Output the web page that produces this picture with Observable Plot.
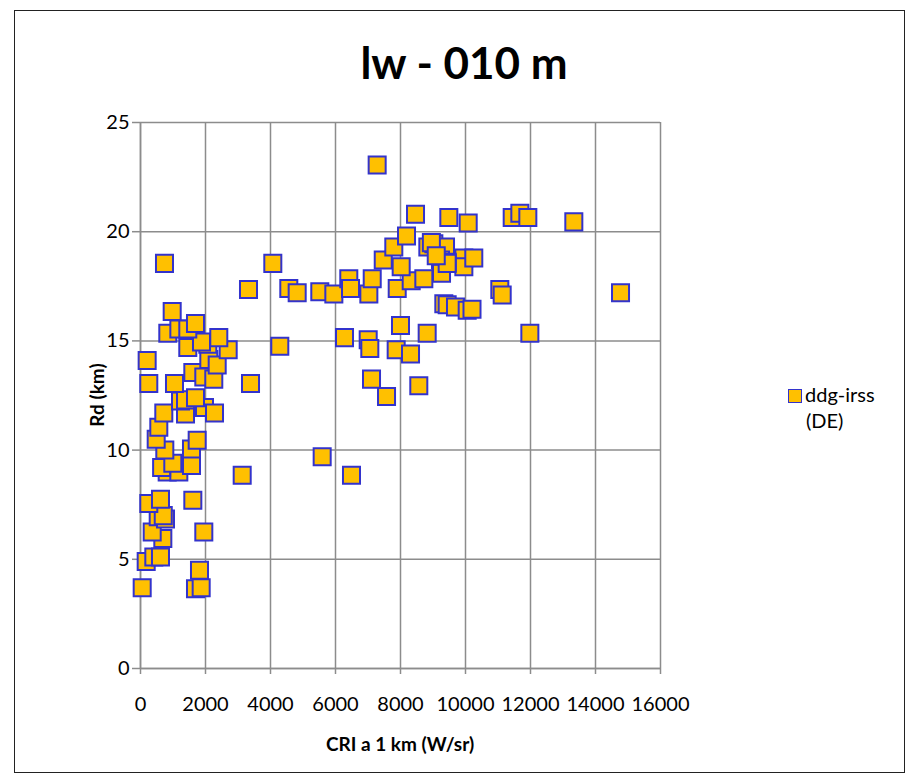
<!DOCTYPE html>
<html>
<head>
<meta charset="utf-8">
<script src="https://cdn.jsdelivr.net/npm/d3@7"></script>
<script src="https://cdn.jsdelivr.net/npm/@observablehq/plot@0.6"></script>
<style>
  html, body { margin: 0; padding: 0; background: #fff; }
  #wrap { position: relative; width: 920px; height: 784px; font-family: Lato, "Open Sans", sans-serif; color: #000; }
  #border { position: absolute; left: 14px; top: 10px; width: 891px; height: 763px; border: 1.5px solid #222; box-sizing: border-box; }
  #title { position: absolute; left: 0; width: 928px; top: 34px; text-align: center; font-weight: bold; font-size: 44px; line-height: 56px; }
  #xlabel { position: absolute; left: 140px; width: 520px; top: 732px; text-align: center; font-weight: bold; font-size: 19px; }
  #ylabel { position: absolute; left: 96px; top: 395px; transform: translate(-50%, -50%) rotate(-90deg); font-weight: bold; font-size: 19px; white-space: nowrap; }
  #legend { position: absolute; left: 788px; top: 381px; font-size: 20px; line-height: 26px; }
  #legend .sw { display: inline-block; width: 12px; height: 12px; background: #FFC000; border: 1.5px solid #3333CC; vertical-align: -1px; margin-right: 3px; }
  #legend .l2 { padding-left: 18px; }
  #chart { position: absolute; left: 0; top: 0; }
</style>
</head>
<body>
<div id="wrap">
  <div id="chart"></div>
  <div id="border"></div>
  <div id="title">lw - 010 m</div>
  <div id="xlabel">CRI a 1 km (W/sr)</div>
  <div id="ylabel">Rd (km)</div>
  <div id="legend"><div><span class="sw"></span>ddg-irss</div><div class="l2">(DE)</div></div>
</div>
<script>
const seriesName = "ddg-irss (DE)";
const xTicks = [0, 2000, 4000, 6000, 8000, 10000, 12000, 14000, 16000];
const yTicks = [0, 5, 10, 15, 20, 25];

// CRI a 1 km (W/sr)
const cri = [
  52, 175, 410, 615, 1692, 1867, 1815, 687, 360, 1948,
  545, 769, 700, 255, 615, 1610, 821, 1179, 650, 994,
  1569, 748, 1569, 483, 1744, 563, 717, 1385, 1969, 2277,
  1231, 1385, 1692, 255, 1046, 1610, 1948, 2255, 3385, 205,
  2102, 2360, 1455, 2071, 1877, 2698, 2409, 840, 1180, 1455,
  1692, 975, 3129, 4286, 738, 4071, 3323, 4563, 4821,
  5517, 5949, 6409, 6462, 7026, 7130, 7899, 8329, 8718, 7469,
  8021, 7794, 8185, 8462, 7282, 8841, 9026, 9385, 9231, 9949,
  9949, 9436, 9262, 9487, 10083, 11437, 11672, 11918, 13333, 11056,
  11129, 14770, 9333, 9436, 9692, 10052, 10200, 11980, 8000, 8821,
  6277, 7006, 7056, 7867, 8308, 7108, 7570, 8563, 5590, 6492,
  10255, 9436, 8950, 9100
];
// Rd (km)
const rd = [
  3.7, 4.9, 5.1, 5.1, 3.65, 3.7, 4.5, 5.95, 6.25, 6.25,
  6.95, 6.85, 7.0, 7.55, 7.75, 7.7, 9.0, 9.0, 9.2, 9.4,
  9.3, 10.0, 10.05, 10.5, 10.45, 11.05, 11.7, 11.65, 11.95, 11.7,
  12.25, 12.3, 12.4, 13.05, 13.05, 13.55, 13.35, 13.25, 13.05, 14.1,
  14.15, 13.9, 14.7, 14.85, 14.95, 14.6, 15.15, 15.35, 15.55, 15.55,
  15.8, 16.35, 8.85, 14.75, 18.55, 18.55, 17.35, 17.4, 17.2,
  17.25, 17.15, 17.85, 17.4, 17.15, 17.85, 17.4, 17.75, 17.85, 18.7,
  18.4, 19.3, 19.8, 20.8, 23.05, 19.3, 19.45, 19.3, 18.7, 18.8,
  18.4, 18.6, 18.1, 20.65, 20.4, 20.65, 20.85, 20.65, 20.45, 17.35,
  17.1, 17.2, 16.7, 16.65, 16.55, 16.4, 16.45, 15.35, 15.7, 15.35,
  15.15, 15.05, 14.65, 14.6, 14.4, 13.25, 12.45, 12.95, 9.7, 8.85,
  18.8, 18.55, 19.5, 18.9
];

const data = cri.map((x, i) => ({x, y: rd[i], s: seriesName}));

const plot = Plot.plot({
  width: 920,
  height: 784,
  marginLeft: 140,
  marginRight: 260,
  marginTop: 122,
  marginBottom: 116,
  style: {fontFamily: "Lato, 'Open Sans', sans-serif", fontSize: "20px", color: "#000", background: "transparent"},
  x: {domain: [0, 16000]},
  y: {domain: [0, 25]},
  marks: [
    Plot.gridX(xTicks, {stroke: "#8c8c8c", strokeOpacity: 1, strokeWidth: 1.5}),
    Plot.gridY(yTicks, {stroke: "#8c8c8c", strokeOpacity: 1, strokeWidth: 1.5}),
    Plot.ruleY([0], {stroke: "#8c8c8c", strokeWidth: 1.5}),
    Plot.ruleX([0], {stroke: "#8c8c8c", strokeWidth: 1.5}),
    Plot.axisX({ticks: xTicks, tickFormat: d => String(d), tickSize: 6, tickPadding: 22, stroke: "#8c8c8c", strokeWidth: 1.5, label: null, fill: "#000"}),
    Plot.axisY({ticks: yTicks, tickFormat: d => String(d), tickSize: 8, tickPadding: 3, stroke: "#8c8c8c", strokeWidth: 1.5, label: null, fill: "#000"}),
    Plot.dot(data, {x: "x", y: "y", symbol: "square", r: 9.6, fill: "#FFC000", stroke: "#3333CC", strokeWidth: 2})
  ]
});
document.getElementById("chart").appendChild(plot);
</script>
</body>
</html>
